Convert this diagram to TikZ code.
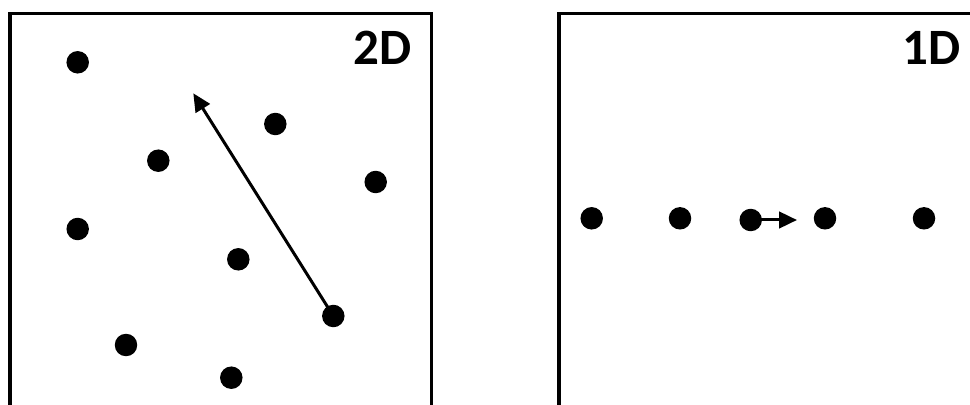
\documentclass[tikz,border=0pt]{standalone}
\usepackage{fontspec}
\setmainfont{Carlito}
\usetikzlibrary{arrows.meta}

\begin{document}
\begin{tikzpicture}[x=0.02cm, y=-0.02cm,
    dot/.style={circle, fill=black, inner sep=0pt, minimum size=0.45cm},
    frame/.style={line width=0.075cm},
    move/.style={line width=0.06cm, -{Triangle[length=0.36cm, width=0.33cm]}},
    dimlabel/.style={font=\fontsize{29}{31}\selectfont\bfseries, anchor=base east, inner sep=0pt}]
  \clip (0,0) rectangle (970,405);

  % 2D panel
  \draw[frame] (10,13.5) rectangle (431.5,440);
  \node[dimlabel] (lab2d) at (412,65) {2D};
  \node[dot] (a1) at (77.7,62.3) {};
  \node[dot] (a2) at (275.3,124) {};
  \node[dot] (a3) at (158.3,160.7) {};
  \node[dot] (a4) at (375.7,182) {};
  \node[dot] (a5) at (77.7,229) {};
  \node[dot] (a6) at (238.3,259.3) {};
  \node[dot] (a7) at (333.3,316) {};
  \node[dot] (a8) at (126,345) {};
  \node[dot] (a9) at (231.3,377.7) {};
  \coordinate (tip2d) at (193.3,93.3);
  \draw[move] (a7.center) -- (tip2d);

  % 1D panel
  \draw[frame] (559,13.5) rectangle (1000,440);
  \node[dimlabel] (lab1d) at (961,65) {1D};
  \node[dot] (b1) at (591.7,218.3) {};
  \node[dot] (b2) at (680,218.3) {};
  \node[dot] (b3) at (750.7,220) {};
  \node[dot] (b4) at (825,218.3) {};
  \node[dot] (b5) at (924,218.3) {};
  \coordinate (tip1d) at (797,220);
  \draw[move] (b3.center) -- (tip1d);
\end{tikzpicture}
\end{document}
